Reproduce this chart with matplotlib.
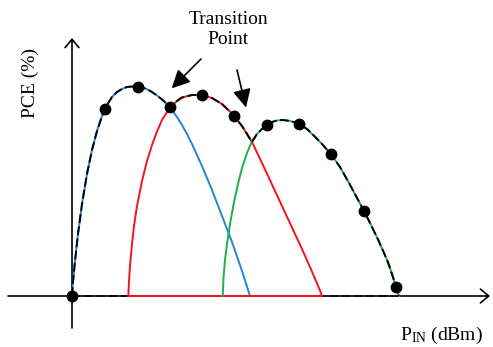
import matplotlib
matplotlib.use("Agg")
import matplotlib.pyplot as plt

plt.rcParams['mathtext.fontset'] = 'custom'
plt.rcParams['mathtext.rm'] = 'Liberation Serif'
plt.rcParams['mathtext.it'] = 'Liberation Serif:italic'

# Schematic PCE vs input power curves (arbitrary units)
blue_x = [0, 1, 3, 6, 10, 15, 20, 25, 30, 35, 40, 45, 50, 55, 60, 65, 70, 75, 80, 85, 90, 95,
          98, 100, 105, 110, 115, 120, 130, 140, 150, 160, 170, 178]
blue_y = [0, 14, 35, 62, 92, 122, 146, 165, 180, 191, 199, 204, 207, 209, 209.5, 209.3, 208.6,
          206.8, 204, 200.5, 196.5, 192, 188.5, 186, 179, 171, 162, 152, 130, 106, 80, 54, 25, 0]

red_x = [56.3, 57, 58, 60, 62, 65, 70, 75, 80, 85, 90, 95, 98, 105, 110, 120, 130, 140, 150,
         160, 170, 180, 190, 200, 210, 220, 230, 238, 244, 248, 250]
red_y = [0, 15, 30, 52, 70, 90, 115, 135, 151, 164.5, 176, 184, 188.5, 195, 198.5, 201, 201,
         198, 192, 182.5, 170, 154, 133, 111.5, 90, 68.5, 47, 29, 15, 5.5, 0]

green_x = [150.7, 151.5, 153, 155, 158, 162, 166, 170, 175, 180, 185, 190, 195, 200, 205, 210,
           215, 220, 227.3, 235, 243, 250, 259, 268, 276.3, 284, 292, 299, 306.3, 312, 316.3,
           320, 324, 326, 327]
green_y = [0, 18, 36, 52, 72, 94, 112, 128, 143, 155, 162, 167, 171, 174, 175.5, 176, 175.5,
           174.5, 172, 167, 159.3, 152, 141.7, 129, 114.3, 100, 85, 71, 56, 43, 33, 22, 9, 2, 0]

dot_x = [0, 33, 65.7, 98, 129.7, 162.3, 194.7, 227.3, 259, 292, 324]
dot_y = [0, 187, 209.3, 189.5, 201, 180, 171, 172, 141.7, 85, 9]

# crossing abscissae where the envelope switches curve
switch_1 = 98
switch_2 = 180

env = ([(x, y) for x, y in zip(blue_x, blue_y) if x <= switch_1]
       + [(x, y) for x, y in zip(red_x, red_y) if switch_1 < x <= switch_2]
       + [(x, y) for x, y in zip(green_x, green_y) if x > switch_2])
env_x = [p[0] for p in env]
env_y = [p[1] for p in env]

BLUE = '#2a82d2'
RED = '#f5141e'
GREEN = '#1fae4a'

fig = plt.figure(figsize=(4.93, 3.47), dpi=100)
ax = fig.add_axes([0, 0, 1, 1])
ax.set_xlim(-72, 421)
ax.set_ylim(-51, 296)
ax.axis('off')

# axes with open arrowheads
ax.annotate('', xy=(0, 258), xytext=(0, -32),
            arrowprops=dict(arrowstyle='->,head_length=0.6,head_width=0.5',
                            lw=1.2, color='black', shrinkA=0, shrinkB=0))
ax.annotate('', xy=(418, 0), xytext=(-64, 0),
            arrowprops=dict(arrowstyle='->,head_length=0.6,head_width=0.5',
                            lw=1.2, color='black', shrinkA=0, shrinkB=0))

# dashed baseline of envelope
ax.plot([0, env_x[-1]], [0, 0], color='#444444', lw=1.4, ls=(0, (4.5, 1.8)), zorder=2)

ax.plot(blue_x, blue_y, color=BLUE, lw=1.4, zorder=3)
ax.plot(red_x, red_y, color=RED, lw=1.4, zorder=3)
ax.plot([red_x[0], red_x[-1]], [0, 0], color=RED, lw=1.4, zorder=3)
ax.plot(green_x, green_y, color=GREEN, lw=1.4, zorder=3)

ax.plot(env_x, env_y, color='black', lw=1.4, ls=(0, (4.5, 1.8)), zorder=4)
ax.plot(dot_x, dot_y, 'o', color='black', ms=7.5, zorder=5, ls='none')

# transition point arrows
ax.annotate('', xy=(99.7, 207.7), xytext=(129, 237),
            arrowprops=dict(arrowstyle='-|>,head_length=1.1,head_width=0.55',
                            lw=1.2, color='black', shrinkA=0, shrinkB=0))
ax.annotate('', xy=(174, 188.5), xytext=(165, 226),
            arrowprops=dict(arrowstyle='-|>,head_length=1.1,head_width=0.55',
                            lw=1.2, color='black', shrinkA=0, shrinkB=0))

ax.text(156.5, 266.5, 'Transition\nPoint', ha='center', va='center',
        multialignment='center', linespacing=1.25,
        fontsize=14, family='Liberation Serif')
ax.text(-42, 213, 'PCE (%)', rotation=90, ha='center', va='center',
        fontsize=14, family='Liberation Serif')
ax.text(411, -39, r'P$_{\mathrm{IN}}$ (dBm)', ha='right', va='center',
        fontsize=14, family='Liberation Serif')

fig.savefig('out.png', dpi=100)
